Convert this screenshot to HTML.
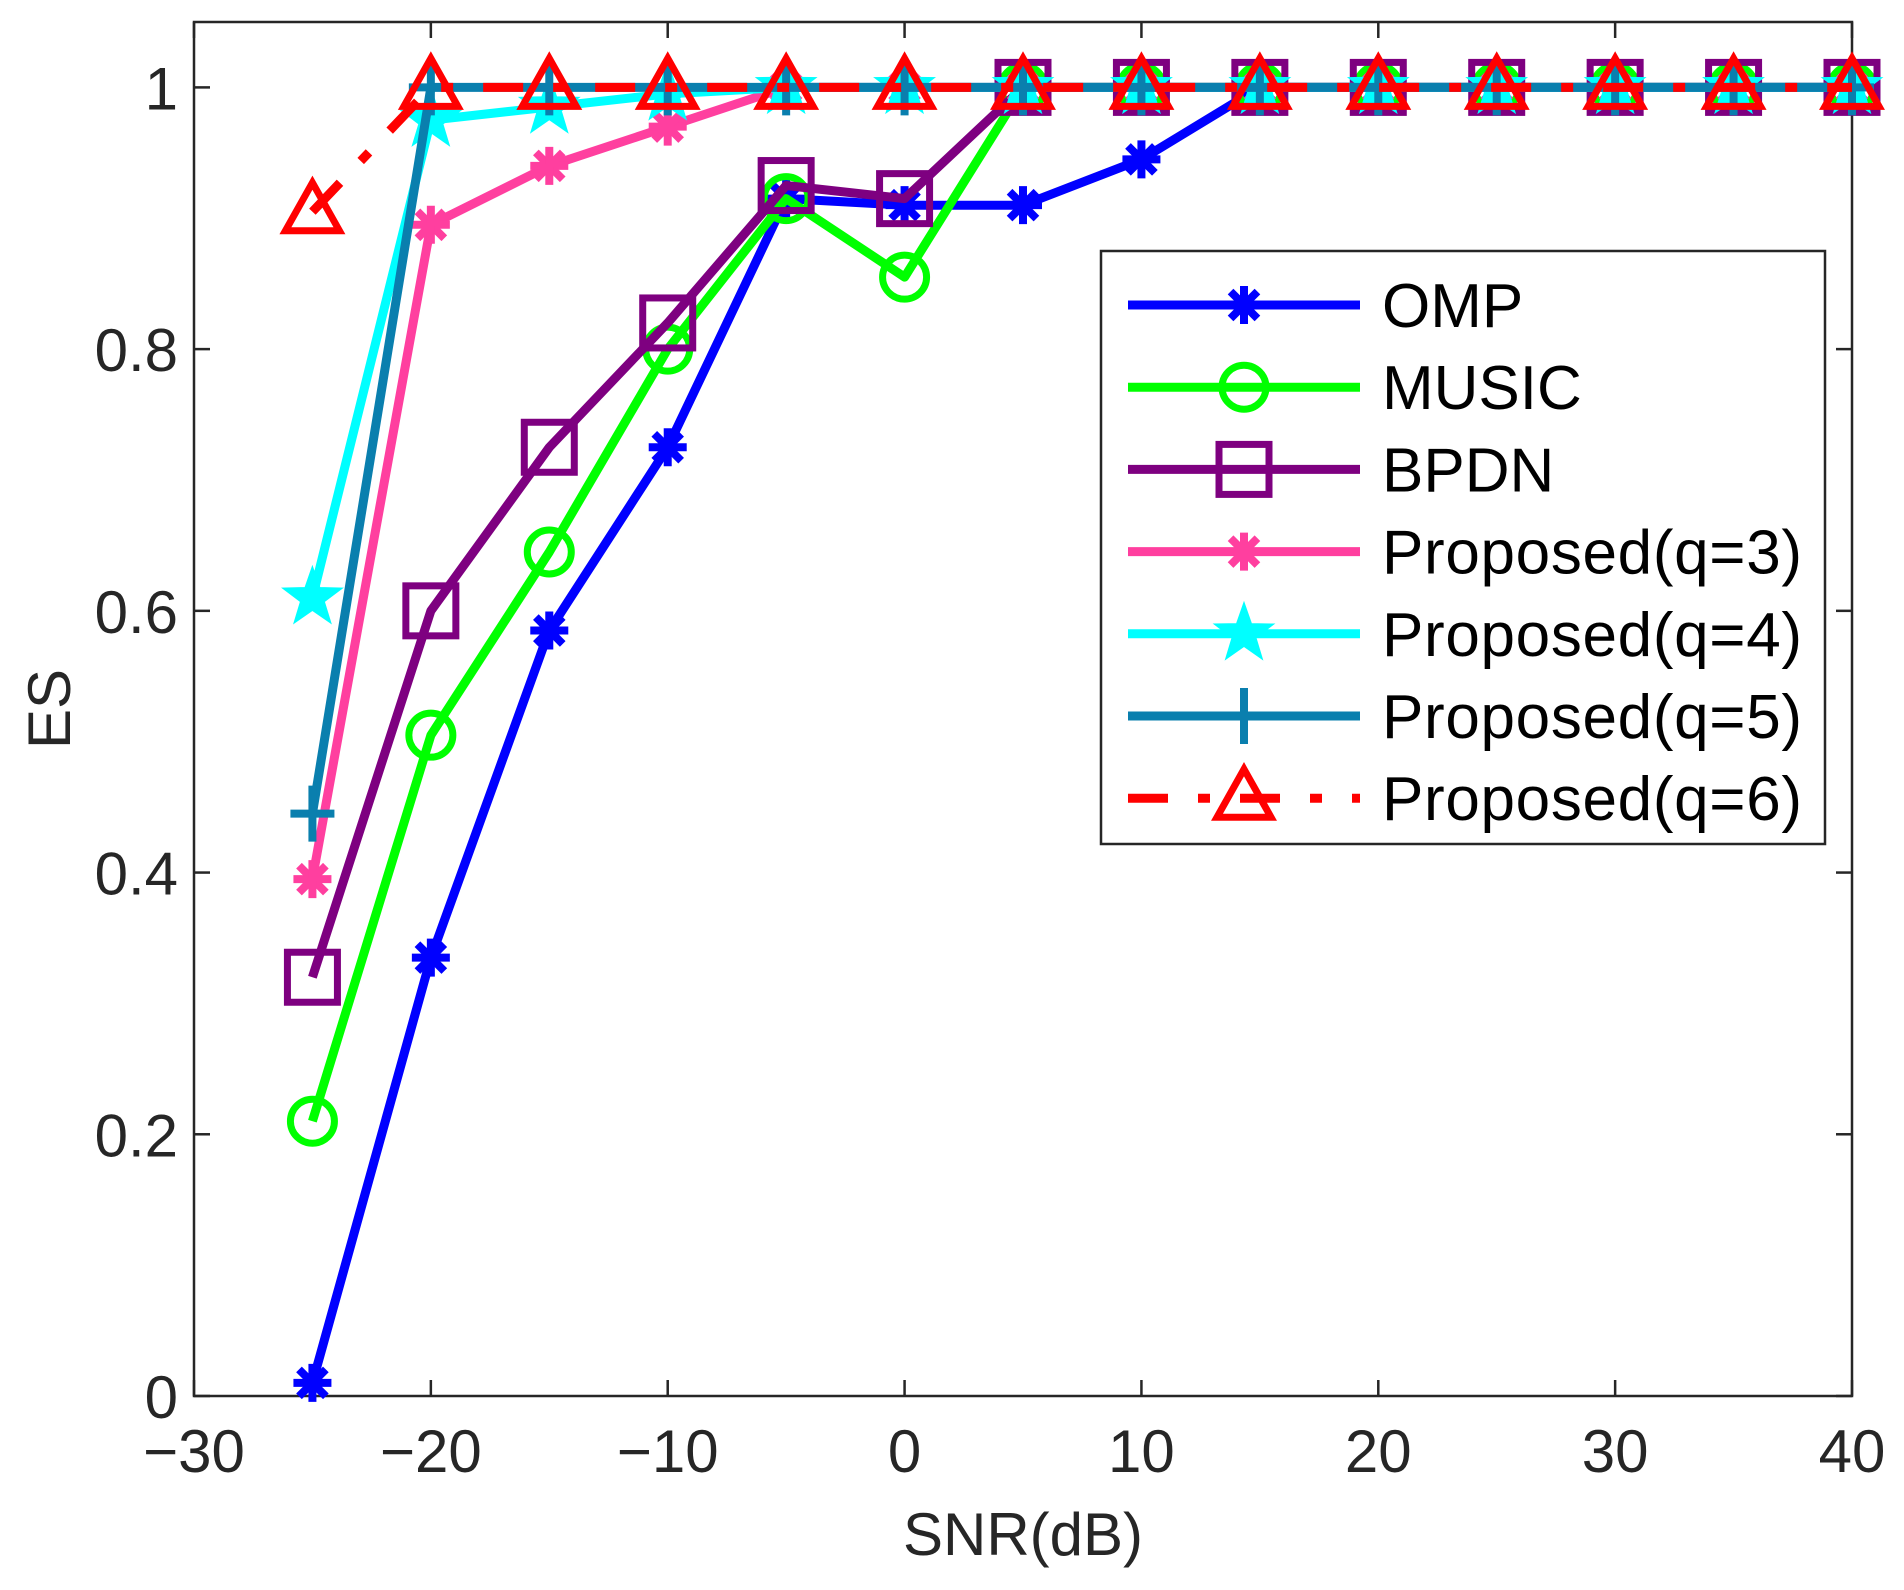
<!DOCTYPE html>
<html><head><meta charset="utf-8"><style>
html,body{margin:0;padding:0;background:#fff;}
svg{display:block;font-family:"Liberation Sans",Arial,sans-serif;}
</style></head><body>
<svg id="chart" width="1904" height="1590" viewBox="0 0 1904 1590" xmlns="http://www.w3.org/2000/svg"></svg>
<script>
const snr = [-25,-20,-15,-10,-5,0,5,10,15,20,25,30,35,40];
const omp = [0.01,0.335,0.585,0.725,0.915,0.91,0.91,0.945,1,1,1,1,1,1];
const music = [0.21,0.505,0.645,0.80,0.915,0.855,1,1,1,1,1,1,1,1];
const bpdn = [0.32,0.60,0.725,0.82,0.925,0.915,1,1,1,1,1,1,1,1];
const q3 = [0.395,0.895,0.94,0.97,1,1,1,1,1,1,1,1,1,1];
const q4 = [0.61,0.975,0.985,0.995,1,1,1,1,1,1,1,1,1,1];
const q5 = [0.445,1,1,1,1,1,1,1,1,1,1,1,1,1];
const q6 = [0.905,1,1,1,1,1,1,1,1,1,1,1,1,1];
const xTicks = [-30,-20,-10,0,10,20,30,40];
const yTicks = [0,0.2,0.4,0.6,0.8,1];
const yTickLabels = ["0","0.2","0.4","0.6","0.8","1"];
const xTickLabels = ["\u221230","\u221220","\u221210","0","10","20","30","40"];

const L=194,R=1852,T=22,B=1396;
const Y1=87.4;
function xs(v){return L+(v+30)/70*(R-L);}
function ys(v){return B-v*(B-Y1);}
const NS="http://www.w3.org/2000/svg";
const svg=document.getElementById('chart');
function el(tag,attrs,parent){const e=document.createElementNS(NS,tag);for(const k in attrs)e.setAttribute(k,attrs[k]);(parent||svg).appendChild(e);return e;}

const box=el('rect',{x:L,y:T,width:R-L,height:B-T,fill:'none',stroke:'#262626','stroke-width':2.5});


const ax=el('g',{});


xTicks.forEach((t,i)=>{
  const x=xs(t);
  el('line',{x1:x,y1:B,x2:x,y2:B-16,stroke:'#262626','stroke-width':2.5},ax);
  el('line',{x1:x,y1:T,x2:x,y2:T+16,stroke:'#262626','stroke-width':2.5},ax);
  const tx=el('text',{x:x,y:B+76,'font-size':60,'text-anchor':'middle',fill:'#262626'},ax);
  tx.textContent=xTickLabels[i];
  
  
});
yTicks.forEach((t,i)=>{
  const y=ys(t);
  el('line',{x1:L,y1:y,x2:L+16,y2:y,stroke:'#262626','stroke-width':2.5},ax);
  el('line',{x1:R,y1:y,x2:R-16,y2:y,stroke:'#262626','stroke-width':2.5},ax);
  const tx=el('text',{x:L-16,y:y+22,'font-size':60,'text-anchor':'end',fill:'#262626'},ax);
  tx.textContent=yTickLabels[i];
  
  
});
const xt=el('text',{x:(L+R)/2,y:1555,'font-size':60,'text-anchor':'middle',fill:'#262626'});
xt.textContent='SNR(dB)';


const yt=el('text',{x:0,y:0,'font-size':60,'text-anchor':'middle',fill:'#262626',transform:`translate(70,${(T+B)/2}) rotate(-90)`});
yt.textContent='ES';



function marker(type,x,y,color,g){
  const sw=7;
  if(type==='asterisk'){
    const r=19;
    for(let a=0;a<4;a++){const an=a*Math.PI/4;el('line',{x1:x-r*Math.cos(an),y1:y-r*Math.sin(an),x2:x+r*Math.cos(an),y2:y+r*Math.sin(an),stroke:color,'stroke-width':8},g);}
  }else if(type==='circle'){el('circle',{cx:x,cy:y,r:22,fill:'none',stroke:color,'stroke-width':sw},g);}
  else if(type==='square'){el('rect',{x:x-25,y:y-25,width:50,height:50,fill:'none',stroke:color,'stroke-width':sw},g);}
  else if(type==='star'){
    let p=[];for(let k=0;k<10;k++){const r=k%2?12:30;const an=-Math.PI/2+k*Math.PI/5;p.push((x+r*Math.cos(an)).toFixed(1)+','+(y+r*Math.sin(an)).toFixed(1));}
    el('polygon',{points:p.join(' '),fill:color,stroke:color,'stroke-width':2},g);
  }else if(type==='plus'){
    el('line',{x1:x-22,y1:y,x2:x+22,y2:y,stroke:color,'stroke-width':8},g);
    el('line',{x1:x,y1:y-28,x2:x,y2:y+28,stroke:color,'stroke-width':8},g);
  }else if(type==='triangle'){
    el('polygon',{points:`${x},${y-29} ${x+27},${y+19} ${x-27},${y+19}`,fill:'none',stroke:color,'stroke-width':sw},g);
  }
}
const series=[
 {name:'OMP',data:omp,color:'#0000ff',m:'asterisk'},
 {name:'MUSIC',data:music,color:'#00ff00',m:'circle'},
 {name:'BPDN',data:bpdn,color:'#7e0080',m:'square'},
 {name:'Proposed(q=3)',data:q3,color:'#ff3f9f',m:'asterisk'},
 {name:'Proposed(q=4)',data:q4,color:'#00ffff',m:'star'},
 {name:'Proposed(q=5)',data:q5,color:'#0a7fae',m:'plus'},
 {name:'Proposed(q=6)',data:q6,color:'#ff0000',m:'triangle',dash:'40 30 12 30'}
];
series.forEach((s,si)=>{
  const g=el('g',{});
  
  
  const pts=snr.map((v,i)=>xs(v).toFixed(1)+','+ys(s.data[i]).toFixed(1)).join(' ');
  const a={points:pts,fill:'none',stroke:s.color,'stroke-width':9,'stroke-linejoin':'round'};
  if(s.dash)a['stroke-dasharray']=s.dash;
  el('polyline',a,g);
  snr.forEach((v,i)=>marker(s.m,xs(v),ys(s.data[i]),s.color,g));
});
const lg=el('g',{});


el('rect',{x:1101,y:251,width:724,height:593,fill:'#fff',stroke:'#262626','stroke-width':2.5},lg);
series.forEach((s,i)=>{
  const y=305+i*82.2;
  const e=el('g',{},lg);
  
  
  const a={x1:1128,y1:y,x2:1360,y2:y,stroke:s.color,'stroke-width':9};
  if(s.dash)a['stroke-dasharray']='40 30 12 30';
  el('line',a,e);
  marker(s.m,1244,y,s.color,e);
  const t=el('text',{x:1382,y:y+22,'font-size':62,fill:'#000',textLength:s.name.length>6?420:null},e);
  if(s.name.length<=6)t.removeAttribute('textLength');
  t.textContent=s.name;
});
</script>
</body></html>
